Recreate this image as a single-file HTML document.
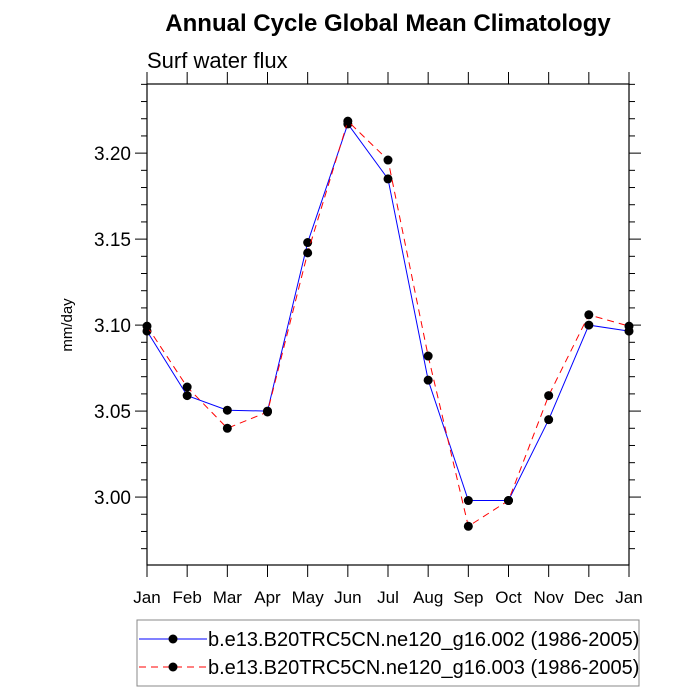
<!DOCTYPE html>
<html><head><meta charset="utf-8"><style>body{margin:0;background:#fff}svg{display:block;font-family:"Liberation Sans",sans-serif}</style></head>
<body>
<svg id="c" width="700" height="700">
<text x="388" y="31" text-anchor="middle" font-size="24" font-weight="bold">Annual Cycle Global Mean Climatology</text>
<text x="147" y="68" font-size="22">Surf water flux</text>
<text transform="translate(72,325) rotate(-90)" text-anchor="middle" font-size="15">mm/day</text>
<g id="ax"></g>
<g id="marks"></g>
<rect x="137" y="620" width="502" height="66" fill="none" stroke="#888" stroke-width="1"/>
<g>
<line x1="139" y1="639" x2="207" y2="639" stroke="#00f" stroke-width="1"/>
<circle cx="173" cy="639" r="4.5"/>
<text x="208" y="646" font-size="20">b.e13.B20TRC5CN.ne120_g16.002 (1986-2005)</text></g>
<g>
<line x1="139" y1="667" x2="207" y2="667" stroke="#f00" stroke-width="1" stroke-dasharray="7,5"/>
<circle cx="173" cy="667" r="4.5"/>
<text x="208" y="674" font-size="20">b.e13.B20TRC5CN.ne120_g16.003 (1986-2005)</text></g>
</svg>
<script>
const months=["Jan","Feb","Mar","Apr","May","Jun","Jul","Aug","Sep","Oct","Nov","Dec","Jan"];
const series002=[3.0965,3.059,3.0505,3.050,3.148,3.217,3.185,3.068,2.998,2.998,3.045,3.100,3.0965];
const series003=[3.0994,3.064,3.040,3.0495,3.142,3.2186,3.196,3.082,2.983,2.998,3.059,3.106,3.0994];
const yTicks=[3.00,3.05,3.10,3.15,3.20];
const L=147,R=629,T=84,B=565,Y0=2.9605,Y1=3.2402;
const x=i=>L+(R-L)*i/12;
const y=v=>B-(v-Y0)/(Y1-Y0)*(B-T);
const NS="http://www.w3.org/2000/svg";
function mk(t,a,p){const e=document.createElementNS(NS,t);for(const k in a)e.setAttribute(k,a[k]);p.appendChild(e);return e;}
const ax=document.getElementById('ax'),mg=document.getElementById('marks');
const fr=mk('rect',{x:L,y:T,width:R-L,height:B-T,fill:'none',stroke:'#000','stroke-width':1.2},ax);


for(let v=2.97;v<3.245;v+=0.01){const yy=y(v);
 const maj=yTicks.some(t=>Math.abs(t-v)<1e-6);const len=maj?12:6;
 mk('line',{x1:L-len,y1:yy,x2:L,y2:yy,stroke:'#000'},ax);
 mk('line',{x1:R,y1:yy,x2:R+len,y2:yy,stroke:'#000'},ax);}
yTicks.forEach(v=>{const t=mk('text',{x:L-16,y:y(v)+7,'text-anchor':'end','font-size':19},ax);t.textContent=v.toFixed(2);
 
 });
months.forEach((m,i)=>{const xx=x(i);
 mk('line',{x1:xx,y1:B,x2:xx,y2:B+12,stroke:'#000'},ax);
 mk('line',{x1:xx,y1:T-12,x2:xx,y2:T,stroke:'#000'},ax);
 const t=mk('text',{x:xx,y:B+38,'text-anchor':'middle','font-size':17},ax);t.textContent=m;
 
 });
function draw(d,col,dash,name){
 const p=mk('polyline',{points:d.map((v,i)=>x(i)+','+y(v)).join(' '),fill:'none',stroke:col,'stroke-width':1,'stroke-dasharray':dash},mg);
 
 
 d.forEach((v,i)=>{const c=mk('circle',{cx:x(i),cy:y(v),r:4.5,fill:'#000'},mg);
  
  });}
draw(series002,'#00f','none','series-002');
draw(series003,'#f00','7,5','series-003');
</script>
</body></html>
